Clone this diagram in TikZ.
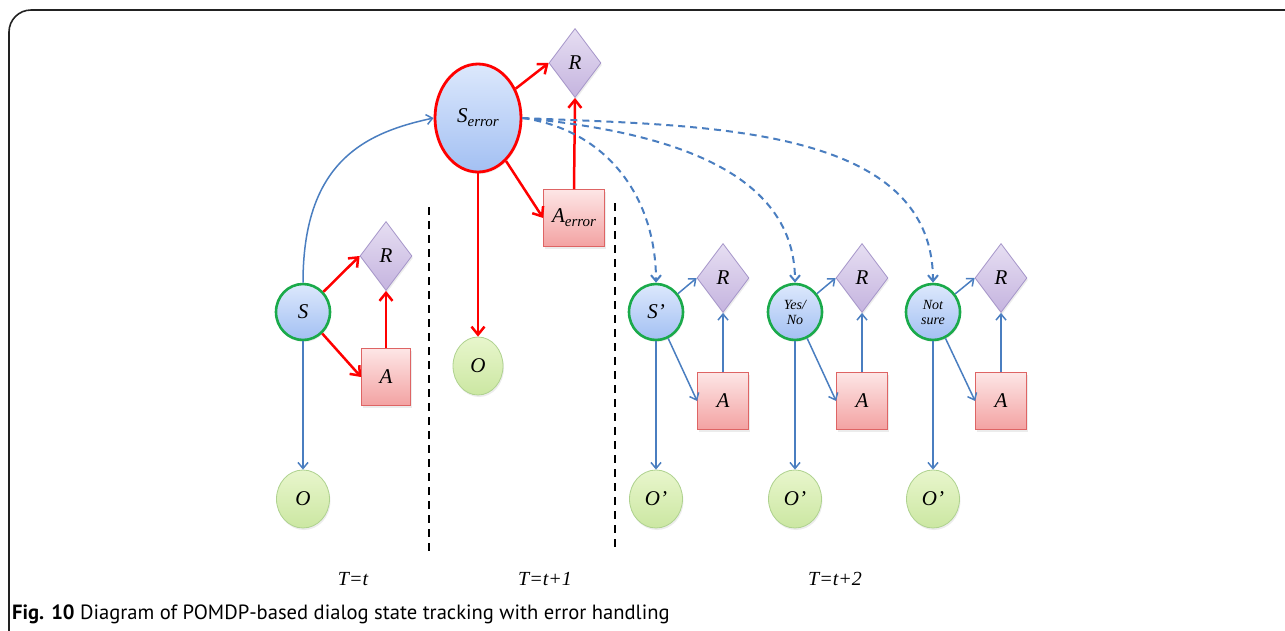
\documentclass[tikz,border=0pt]{standalone}
\usepackage{fontspec}
\setmainfont{Liberation Serif}
\newfontfamily\capfont{PT Sans}
\usetikzlibrary{shapes.geometric,arrows.meta,shadows}

\definecolor{stgreen}{HTML}{1AAA4A}
\definecolor{sttop}{HTML}{DCE8FC}
\definecolor{stbot}{HTML}{A3C0F3}
\definecolor{obtop}{HTML}{E8F6CC}
\definecolor{obbot}{HTML}{CBE7A2}
\definecolor{obline}{HTML}{AFD28F}
\definecolor{rwtop}{HTML}{E6DEF2}
\definecolor{rwbot}{HTML}{C5B4DF}
\definecolor{rwline}{HTML}{A595C9}
\definecolor{actop}{HTML}{FDE6E6}
\definecolor{acbot}{HTML}{F3A2A2}
\definecolor{acline}{HTML}{DE6464}
\definecolor{lnblue}{HTML}{4A7EC0}
\definecolor{framecol}{HTML}{222222}

\tikzset{
  lbl/.style={font=\itshape\fontsize{21}{21}\selectfont},
  soft/.style={drop shadow={opacity=0.15,shadow xshift=1pt,shadow yshift=-2pt}},
  state/.style={ellipse, draw=stgreen, line width=2.6pt, top color=sttop, bottom color=stbot,
    minimum width=54pt, minimum height=56pt, inner sep=0pt, lbl, soft},
  errstate/.style={ellipse, draw=red, line width=2.8pt, top color=sttop, bottom color=stbot,
    minimum width=86pt, minimum height=108pt, inner sep=0pt, lbl, soft},
  obs/.style={ellipse, draw=obline, line width=0.8pt, top color=obtop, bottom color=obbot,
    minimum width=53pt, minimum height=58pt, inner sep=0pt, lbl, soft},
  reward/.style={diamond, draw=rwline, line width=0.8pt, top color=rwtop, bottom color=rwbot,
    minimum width=52pt, minimum height=69pt, inner sep=0pt, lbl, soft},
  action/.style={rectangle, draw=acline, line width=0.8pt, top color=actop, bottom color=acbot,
    minimum width=49pt, minimum height=57pt, inner sep=0pt, lbl, soft},
  redarr/.style={draw=red, line width=2.5pt, -{Straight Barb[length=8pt,width=13pt]}},
  bluearr/.style={draw=lnblue, line width=1.5pt, -{Straight Barb[length=6pt,width=10pt]}},
  dasharr/.style={draw=lnblue, line width=2pt, dash pattern=on 7pt off 5pt,
    -{Straight Barb[length=6pt,width=10pt]}},
  divider/.style={draw=black, line width=2pt, dash pattern=on 8pt off 6pt},
  small/.style={font=\itshape\fontsize{14}{15}\selectfont, align=center},
  timelbl/.style={font=\itshape\fontsize{20}{20}\selectfont}
}

\begin{document}
\begin{tikzpicture}[x=1pt,y=-1pt]
  \useasboundingbox (0,0) rectangle (1285,630);

  % open frame: top and left edges with a rounded corner
  \draw[framecol, line width=1.6pt] (9,632) -- (9,32) arc[start angle=180, end angle=90, radius=22pt] -- (1287,10);

  % time slice t
  \node[state] (S) at (303,312) {S};
  \node[reward] (R1) at (386,256) {R};
  \node[action] (A1) at (386,377) {A};
  \node[obs] (O1) at (303,499) {O};

  % time slice t+1 (error handling)
  \node[errstate] (Serr) at (478,118) {S\raisebox{-4pt}{\fontsize{15}{15}\selectfont error}};
  \node[reward] (Rt) at (575,63) {R};
  \node[action, minimum width=61pt] (Aerr) at (574,218) {A\raisebox{-4pt}{\fontsize{15}{15}\selectfont error}};
  \node[obs, minimum width=50pt] (Om) at (478,366) {O};

  % time slice t+2: three possible states
  \node[state] (Sp) at (656,312) {S’};
  \node[reward] (R2) at (723,278) {R};
  \node[action, minimum width=51pt] (A2) at (723,401) {A};
  \node[obs] (Op1) at (656,499) {O’};

  \node[state] (YN) at (795,312) {};
  \node[small] (YNt) at (YN) {Yes/\\No};
  \node[reward] (R3) at (862,278) {R};
  \node[action, minimum width=51pt] (A3) at (862,401) {A};
  \node[obs] (Op2) at (795,499) {O’};

  \node[state] (NS) at (933,312) {};
  \node[small] (NSt) at (NS) {Not\\sure};
  \node[reward] (R4) at (1001,278) {R};
  \node[action, minimum width=51pt] (A4) at (1001,401) {A};
  \node[obs] (Op3) at (933,499) {O’};

  % dividers between time slices
  \coordinate (d1a) at (429,207); \coordinate (d1b) at (429,556);
  \coordinate (d2a) at (615,203); \coordinate (d2b) at (615,552);
  \draw[divider] (d1a) -- (d1b);
  \draw[divider] (d2a) -- (d2b);

  % connections at time t
  \draw[redarr] (S) -- (R1.west);
  \draw[redarr] (S) -- (A1.west);
  \draw[redarr] (A1.north) -- (R1.south);
  \draw[bluearr] (S.south) -- (O1.north);
  \draw[bluearr] (S.north) .. controls +(0,-120) and +(-70,15) .. (Serr.west);

  % connections at time t+1
  \draw[redarr] (Serr) -- (Rt.west);
  \draw[redarr] (Serr) -- (Aerr.west);
  \draw[redarr] (Aerr.north) -- (Rt.south);
  \draw[redarr] (Serr.south) -- (Om.north);

  \draw[dasharr] (Serr.east) .. controls +(85,12) and +(0,-85) .. (Sp.north);
  \draw[dasharr] (Serr.east) .. controls +(125,12) and +(0,-120) .. (YN.north);
  \draw[dasharr] (Serr.east) .. controls +(175,8) and +(0,-160) .. (NS.north);

  % connections at time t+2
  \draw[bluearr] (Sp) -- (R2.west);
  \draw[bluearr] (Sp) -- (A2.west);
  \draw[bluearr] (A2.north) -- (R2.south);
  \draw[bluearr] (Sp.south) -- (Op1.north);

  \draw[bluearr] (YN) -- (R3.west);
  \draw[bluearr] (YN) -- (A3.west);
  \draw[bluearr] (A3.north) -- (R3.south);
  \draw[bluearr] (YN.south) -- (Op2.north);

  \draw[bluearr] (NS) -- (R4.west);
  \draw[bluearr] (NS) -- (A4.west);
  \draw[bluearr] (A4.north) -- (R4.south);
  \draw[bluearr] (NS.south) -- (Op3.north);

  % time labels
  \node[timelbl] (T1) at (353,579) {T=t};
  \node[timelbl] (T2) at (545,579) {T=t+1};
  \node[timelbl] (T3) at (835,579) {T=t+2};

  % caption
  \node[anchor=base west, inner sep=0pt, font=\capfont\fontsize{20.6}{21}\selectfont] (cap) at (12,619)
    {\textbf{Fig. 10} Diagram of POMDP-based dialog state tracking with error handling};
\end{tikzpicture}
\end{document}
